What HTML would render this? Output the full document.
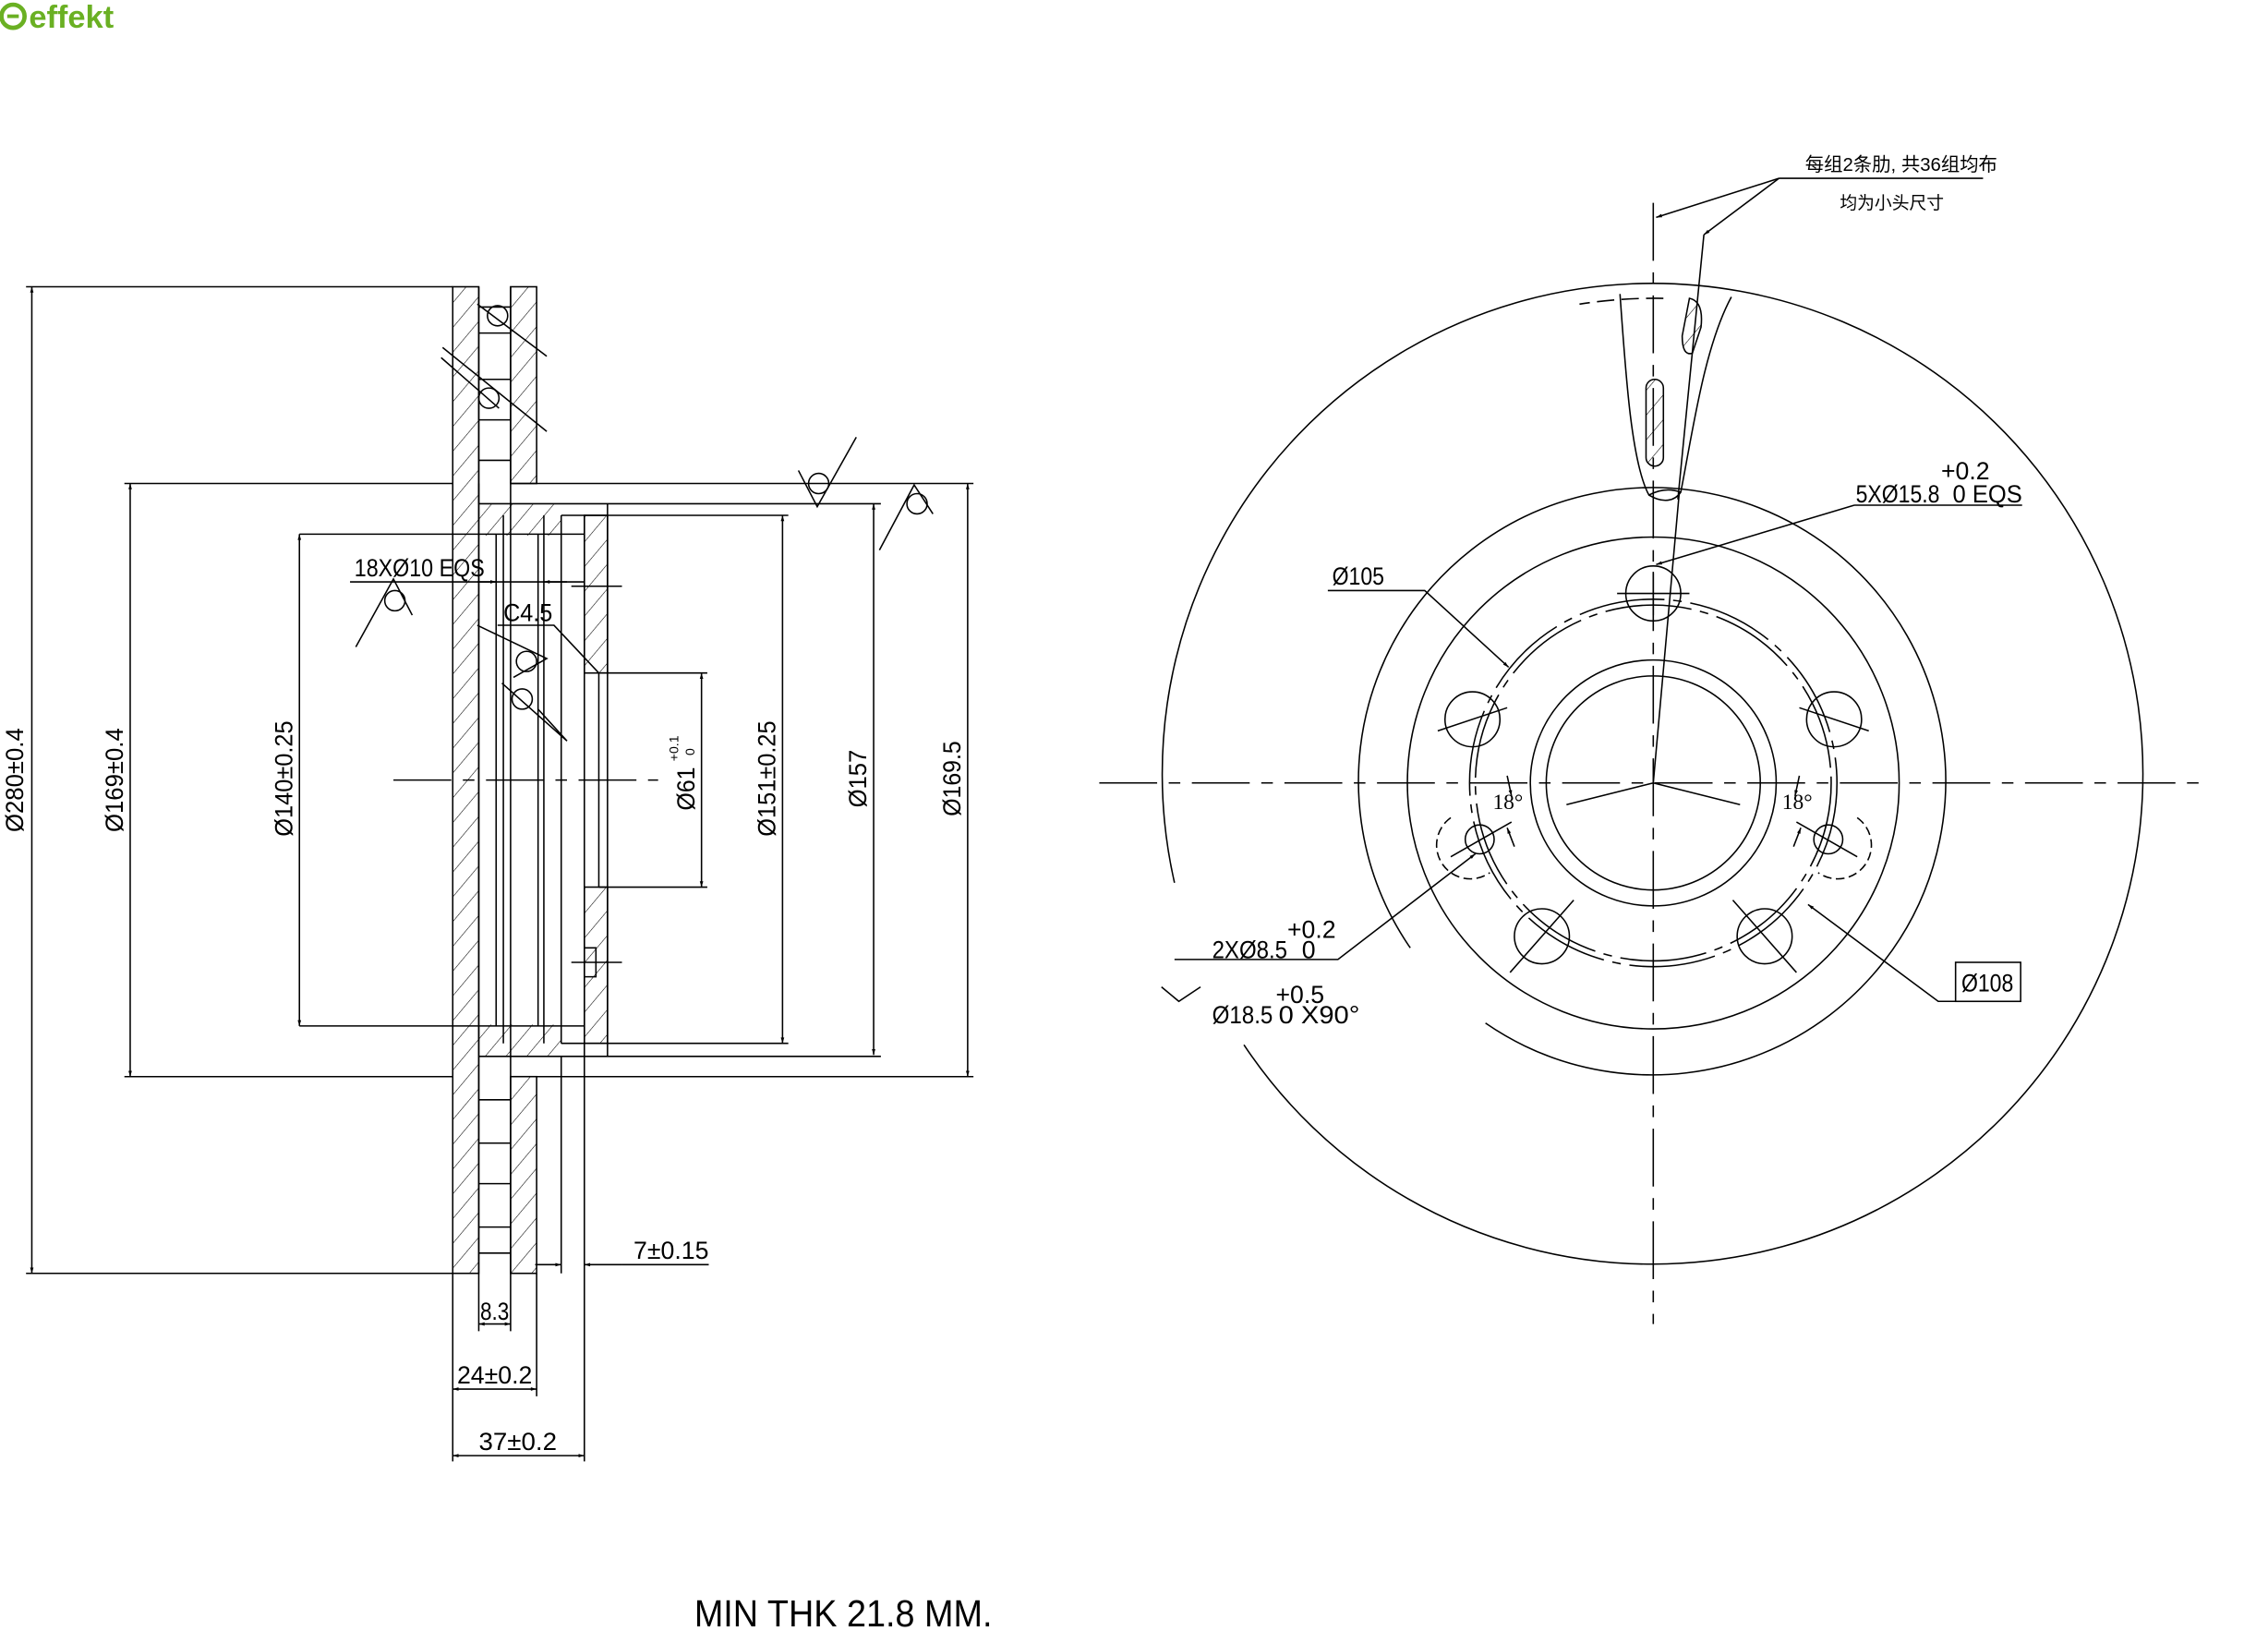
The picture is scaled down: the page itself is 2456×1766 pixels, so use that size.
<!DOCTYPE html>
<html><head><meta charset="utf-8"><style>
html,body{margin:0;padding:0;background:#fff;}
svg{display:block;}
text{font-family:"Liberation Sans","Noto Sans CJK SC",sans-serif;fill:#000;}
</style></head><body>
<svg width="2456" height="1766" viewBox="0 0 1568 1127" xmlns="http://www.w3.org/2000/svg">
<defs>
<pattern id="h" patternUnits="userSpaceOnUse" width="11" height="11" patternTransform="rotate(40)">
<line x1="0" y1="0" x2="0" y2="11" stroke="#000" stroke-width="0.7"/>
</pattern>
<marker id="a" viewBox="0 0 10 10" refX="10" refY="5" markerWidth="8" markerHeight="4" orient="auto-start-reverse"><path d="M0,2 L10,5 L0,8 z" fill="#000"/></marker>
</defs>
<!-- logo -->
<circle cx="9" cy="11" r="8" fill="none" stroke="#6ab023" stroke-width="3"/>
<path d="M5,11 h8" stroke="#6ab023" stroke-width="2.5"/>
<text x="20" y="19" font-size="22" font-weight="bold" style="fill:#6ab023">effekt</text>

<g stroke="#000" stroke-width="1" fill="none">
<!-- LEFT VIEW -->
<rect x="313" y="198" width="18" height="682" fill="url(#h)"/>
<rect x="353" y="198" width="18" height="136" fill="url(#h)"/>
<rect x="353" y="744" width="18" height="136" fill="url(#h)"/>
<path d="M331,198 V880 M353,198 V880" />
<path d="M331,212 h22 M331,230 h22 M331,262 h22 M331,290 h22 M331,318 h22 M331,760 h22 M331,790 h22 M331,818 h22 M331,848 h22 M331,866 h22"/>
<!-- hat -->
<path d="M331,334 V348 H609 M353,334 H673 M331,730 H609 M371,744 H673"/>
<rect x="331" y="348" width="57" height="22" fill="url(#h)" stroke="none"/>
<rect x="331" y="708" width="57" height="22" fill="url(#h)" stroke="none"/>
<rect x="404" y="356" width="16" height="109" fill="url(#h)"/>
<rect x="404" y="613" width="16" height="108" fill="url(#h)"/>
<path d="M388,356 H545 M388,721 H545 M388,356 V721 M420,348 V730 M404,356 V721 M414,465 H489 M414,613 H489 M414,465 V613"/>
<path d="M348,356 V721 M376,356 V721 M343,369 V709 M372,369 V709"/>
<path d="M207,369 H404 M207,709 H404 M18,198 H313 M18,880 H313 M86,334 H313 M86,744 H313"/>
<path d="M395,405 h35 M395,665 h35 M404,655 h8 v20 h-8"/>
<!-- centerline -->
<path d="M272,539 H455" stroke-dasharray="40,8,8,8"/>
<!-- dim lines -->
<path d="M22,198 V880" marker-start="url(#a)" marker-end="url(#a)"/>
<path d="M90,334 V744" marker-start="url(#a)" marker-end="url(#a)"/>
<path d="M207,369 V709" marker-start="url(#a)" marker-end="url(#a)"/>
<path d="M485,465 V613" marker-start="url(#a)" marker-end="url(#a)"/>
<path d="M541,356 V721" marker-start="url(#a)" marker-end="url(#a)"/>
<path d="M604,348 V729" marker-start="url(#a)" marker-end="url(#a)"/>
<path d="M669,334 V744" marker-start="url(#a)" marker-end="url(#a)"/>
<path d="M313,880 V1010 M371,880 V965 M331,880 V920 M353,880 V920 M404,721 V1010 M388,730 V880"/>
<path d="M331,915 H353" marker-start="url(#a)" marker-end="url(#a)"/>
<path d="M313,960 H371" marker-start="url(#a)" marker-end="url(#a)"/>
<path d="M313,1006 H404" marker-start="url(#a)" marker-end="url(#a)"/>
<path d="M370,874 H388" marker-end="url(#a)"/><path d="M430,874 H404" marker-end="url(#a)"/><path d="M430,874 H490"/>
<path d="M242,402 H404"/><path d="M330,402 H343" marker-end="url(#a)"/><path d="M392,402 H376" marker-end="url(#a)"/>
<path d="M344,432 H383 L414,465"/>
<!-- roughness symbols -->
<path d="M306,240 L378,298 M305,247 L345,282" /><circle cx="344" cy="218" r="7"/><path d="M330,210 L378,246"/><circle cx="338" cy="275" r="7"/>
<path d="M246,447 L272,400 L285,425"/><circle cx="273" cy="415" r="7"/>
<path d="M330,432 L378,455 L355,468 M347,472 L392,512 L372,490"/><circle cx="364" cy="457" r="7"/><circle cx="361" cy="483" r="7"/>
<path d="M592,302 L565,350 L552,325"/><circle cx="566" cy="334" r="7"/>
<path d="M608,380 L632,335 L645,355"/><circle cx="634" cy="348" r="7"/>

<!-- RIGHT VIEW -->
<path d="M760,541 H1522 M1143,140 V915" stroke-dasharray="40,8,8,8"/>
<path d="M812,610 A339,339 0 1 1 860,722"/>
<path d="M975,655 A203,203 0 1 1 1027,707"/>
<circle cx="1143" cy="541" r="170"/>
<circle cx="1143" cy="541" r="127" stroke-dasharray="60,6,6,6"/>
<circle cx="1143" cy="541" r="123" stroke-dasharray="60,6,6,6"/>
<circle cx="1143" cy="541" r="85"/>
<circle cx="1143" cy="541" r="74"/>
<path d="M1143,541 L1083,556 M1143,541 L1203,556 M1143,541 L1161,340"/>
<circle cx="1143" cy="410" r="19"/><circle cx="1018" cy="497" r="19"/><circle cx="1268" cy="497" r="19"/><circle cx="1066" cy="647" r="19"/><circle cx="1220" cy="647" r="19"/>
<path d="M1118,410 h50 M1143,395 v30 M994,505 l48,-16 M1244,489 l48,16 M1044,672 l44,-50 M1242,672 l-44,-50"/>
<circle cx="1023" cy="580" r="10"/><circle cx="1264" cy="580" r="10"/>
<path d="M1003,592 l42,-24 M1284,592 l-42,-24"/>
<path d="M1003,565 A22,22 0 0 0 1030,603 M1284,565 A22,22 0 0 1 1257,603" stroke-dasharray="6,3"/>
<!-- vent slot -->
<path d="M1120,203 C1124,260 1128,320 1140,342 C1150,348 1158,346 1162,340 C1170,300 1178,240 1197,205"/>
<path d="M1150,206 A339,339 0 0 0 1092,210" stroke-dasharray="12,5"/>
<path d="M1140,342 Q1151,336 1162,340"/>
<rect x="1138" y="262" width="12" height="60" rx="6" fill="url(#h)"/>
<path d="M1168,206 Q1178,208 1176,226 L1170,244 Q1163,246 1163,232 Z" fill="url(#h)"/>
<path d="M1178,162 L1160,345"/>
<!-- leaders -->
<path d="M1230,123 H1371"/><path d="M1230,123 L1145,150" marker-end="url(#a)"/><path d="M1230,123 L1178,162" marker-end="url(#a)"/>
<path d="M1282,349 L1145,390" marker-end="url(#a)"/><path d="M1282,349 H1398"/>
<path d="M918,408 H985 L1043,461" marker-end="url(#a)"/>
<path d="M812,663 H925 L1020,590" marker-end="url(#a)"/>
<path d="M803,682 L815,692 L830,682"/>
<rect x="1352" y="665" width="45" height="27"/>
<path d="M1352,692 H1340 L1250,625" marker-end="url(#a)"/>
<path d="M1042,536 L1045,550" marker-end="url(#a)"/><path d="M1047,585 L1042,572" marker-end="url(#a)"/>
<path d="M1244,536 L1241,550" marker-end="url(#a)"/><path d="M1240,585 L1245,572" marker-end="url(#a)"/>
</g>

<!-- labels -->
<g font-size="17">
<text transform="translate(16,575) rotate(-90)" textLength="72" lengthAdjust="spacingAndGlyphs">Ø280±0.4</text>
<text transform="translate(85,575) rotate(-90)" textLength="72" lengthAdjust="spacingAndGlyphs">Ø169±0.4</text>
<text transform="translate(202,578) rotate(-90)" textLength="80" lengthAdjust="spacingAndGlyphs">Ø140±0.25</text>
<text transform="translate(480,560) rotate(-90)" textLength="30" lengthAdjust="spacingAndGlyphs">Ø61</text>
<text transform="translate(469,526) rotate(-90)" font-size="9">+0.1</text>
<text transform="translate(480,522) rotate(-90)" font-size="9">0</text>
<text transform="translate(536,578) rotate(-90)" textLength="80" lengthAdjust="spacingAndGlyphs">Ø151±0.25</text>
<text transform="translate(599,558) rotate(-90)" textLength="40" lengthAdjust="spacingAndGlyphs">Ø157</text>
<text transform="translate(664,564) rotate(-90)" textLength="52" lengthAdjust="spacingAndGlyphs">Ø169.5</text>
<text x="245" y="398" textLength="90" lengthAdjust="spacingAndGlyphs">18XØ10 EQS</text>
<text x="348" y="429" textLength="34" lengthAdjust="spacingAndGlyphs">C4.5</text>
<text x="438" y="870" textLength="52" lengthAdjust="spacingAndGlyphs">7±0.15</text>
<text x="332" y="912" textLength="20" lengthAdjust="spacingAndGlyphs">8.3</text>
<text x="316" y="956" textLength="52" lengthAdjust="spacingAndGlyphs">24±0.2</text>
<text x="331" y="1002" textLength="54" lengthAdjust="spacingAndGlyphs">37±0.2</text>
<text x="480" y="1124" font-size="26" textLength="206" lengthAdjust="spacingAndGlyphs">MIN THK 21.8 MM.</text>
<text x="1283" y="347" textLength="58" lengthAdjust="spacingAndGlyphs">5XØ15.8</text>
<text x="1342" y="331">+0.2</text>
<text x="1350" y="347" textLength="48" lengthAdjust="spacingAndGlyphs">0 EQS</text>
<text x="921" y="404" textLength="36" lengthAdjust="spacingAndGlyphs">Ø105</text>
<text x="838" y="662" textLength="52" lengthAdjust="spacingAndGlyphs">2XØ8.5</text>
<text x="890" y="648">+0.2</text><text x="900" y="662">0</text>
<text x="838" y="707" textLength="42" lengthAdjust="spacingAndGlyphs">Ø18.5</text>
<text x="882" y="693">+0.5</text><text x="884" y="707" textLength="56" lengthAdjust="spacingAndGlyphs">0 X90°</text>
<text x="1356" y="685" textLength="36" lengthAdjust="spacingAndGlyphs">Ø108</text>
</g>
<text x="1032" y="559" font-size="15" style="font-family:'Liberation Serif',serif">18°</text>
<text x="1232" y="559" font-size="15" style="font-family:'Liberation Serif',serif">18°</text>
<text x="1248" y="118" font-size="13">每组2条肋, 共36组均布</text>
<text x="1272" y="144" font-size="12">均为小头尺寸</text>
</svg>
</body></html>
